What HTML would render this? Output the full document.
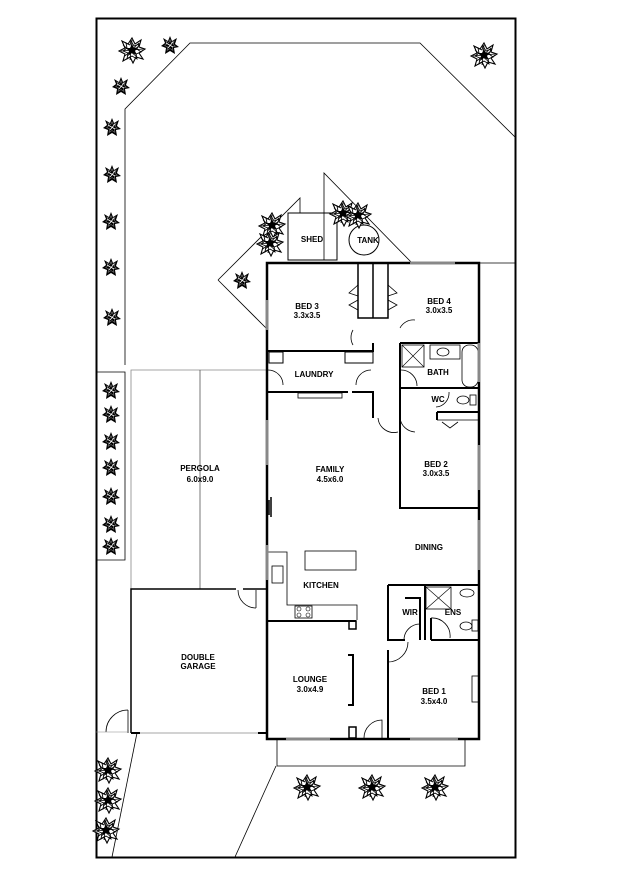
<!DOCTYPE html>
<html><head><meta charset="utf-8"><style>
html,body{margin:0;padding:0;background:#fff}
svg{display:block}
text{font-family:"Liberation Sans",sans-serif;font-size:8px;font-weight:bold;text-anchor:middle;fill:#000}
</style></head><body>
<svg width="620" height="877" viewBox="0 0 620 877" xmlns="http://www.w3.org/2000/svg">
<defs>
<g id="t">
<polygon points="0,-12 3,-6 9,-10 7,-3 13,-1 7,3 11,9 4,7 1,13 -2,7 -9,11 -7,4 -13,1 -7,-2 -10,-9 -4,-6" fill="#fff" stroke="#000" stroke-width="1.1"/>
<polygon points="-1,-9 2,-4 7,-6 5,-1 9,2 4,4 5,9 0,6 -5,9 -4,3 -9,1 -5,-2 -6,-7 -2,-5" fill="none" stroke="#000" stroke-width="0.9"/>
<polygon points="0,-6 2,-2 6,-3 3,1 5,5 0,3 -4,6 -3,1 -6,-2 -2,-2" fill="#000"/>
<path d="M-9,-5 L5,7 M-7,6 L7,-7 M0,-10 L-2,10 M-11,1 L11,-1" stroke="#000" stroke-width="0.8"/>
</g>
<g id="s">
<polygon points="0,-9 2,-4 7,-7 5,-1 9,2 4,3 5,9 0,6 -5,9 -4,3 -9,1 -5,-2 -7,-7 -2,-4" fill="#000"/>
<polygon points="0,-9 2,-4 7,-7 5,-1 9,2 4,3 5,9 0,6 -5,9 -4,3 -9,1 -5,-2 -7,-7 -2,-4" fill="none" stroke="#fff" stroke-width="0.5" transform="scale(0.6)"/>
<path d="M-4,-2 L3,2 M-2,3 L3,-3" stroke="#fff" stroke-width="0.8"/>
</g>
</defs>
<g fill="none" stroke="#000">
<rect x="96.5" y="18.5" width="419" height="839" stroke-width="2"/>
<polyline points="125,365 125,109 190,43 420,43 515,137" stroke-width="0.8"/>
<line x1="479" y1="263" x2="515" y2="263" stroke-width="0.8"/>
<polyline points="96,372 125,372 125,560 96,560" stroke-width="0.8"/>
<polyline points="131,589 131,370 267,370" stroke="#888" stroke-width="0.8"/>
<line x1="200" y1="370" x2="200" y2="589" stroke="#555" stroke-width="0.8"/>
<polyline points="131,733 131,589 236,589" stroke-width="1.5"/>
<line x1="243" y1="589" x2="267" y2="589" stroke-width="1.5"/>
<line x1="131" y1="733" x2="267" y2="733" stroke="#888" stroke-width="0.8"/>
<path d="M131,733 H140 M258,733 H267" stroke-width="2"/>
<path d="M256,590 L256,608 M256,608 A18,18 0 0 1 238,590" stroke-width="0.8"/>
<path d="M128,733 L128,710 M128,710 A22,22 0 0 0 106,732" stroke-width="0.8"/>
<line x1="96" y1="732" x2="128" y2="732" stroke="#888" stroke-width="0.6"/>
<line x1="137" y1="733" x2="112" y2="857" stroke-width="0.8"/>
<line x1="276" y1="766" x2="235" y2="857" stroke-width="0.8"/>
<polyline points="277,739 277,766 465,766 465,739" stroke-width="0.8"/>
<polyline points="218,280 300,198 300,213" stroke-width="0.8"/>
<line x1="218" y1="280" x2="267" y2="329" stroke-width="0.8"/>
<polyline points="324,260 324,173 412,263" stroke-width="0.8"/>
<rect x="288" y="213" width="49" height="47" stroke-width="1"/>
<circle cx="364" cy="240" r="15" stroke-width="1"/>
<rect x="267" y="263" width="212" height="476" stroke-width="2.5"/>
<path d="M358,263 V318 H388 V263 M373,263 V318" stroke-width="1.5"/>
<path d="M358,285 l-9,8 l9,3 M358,300 l-9,5 l9,5 M388,285 l9,8 l-9,3 M388,300 l9,5 l-9,5" stroke-width="0.8"/>
<path d="M267,351 H373 V343 M267,392 H348 M352,392 H373 V418" stroke-width="2"/>
<rect x="269" y="352" width="14" height="11" stroke-width="1"/>
<rect x="345" y="352" width="28" height="11" stroke-width="1"/>
<path d="M268,370 A15,15 0 0 1 283,385 M371,370 A15,15 0 0 0 356,385 M353,330 A15,15 0 0 0 353,345 M400,328 A15,15 0 0 1 415,320" stroke-width="0.8"/>
<rect x="298" y="393" width="44" height="5" stroke-width="0.8"/>
<path d="M400,343 H479 M400,343 V418 M400,388 H479 M437,412 H479 M437,412 V420" stroke-width="2"/>
<rect x="402" y="345" width="22" height="22" stroke-width="0.8"/>
<path d="M402,345 L424,367 M424,345 L402,367" stroke-width="0.6"/>
<rect x="430" y="345" width="30" height="14" stroke-width="0.8"/>
<ellipse cx="443" cy="352" rx="6" ry="4" stroke-width="0.8"/>
<rect x="462" y="345" width="16" height="42" rx="7" stroke-width="0.8"/>
<ellipse cx="463" cy="400" rx="6" ry="4" stroke-width="0.8"/>
<rect x="470" y="395" width="6" height="10" stroke-width="0.8"/>
<path d="M401,370 A16,16 0 0 1 417,386 M449,392 A14,14 0 0 1 436,407 M378,418 A16,16 0 0 0 398,432 M400,418 A16,16 0 0 0 415,432" stroke-width="0.8"/>
<path d="M400,418 V508 H479" stroke-width="2"/>
<path d="M437,420 H479 M442,422 l8,6 l8,-6" stroke-width="0.8"/>
<rect x="305" y="551" width="51" height="19" stroke-width="0.8"/>
<path d="M267,552 H287 V605 H357 V620" stroke-width="0.8"/>
<rect x="272" y="566" width="11" height="17" stroke-width="0.8"/>
<rect x="295" y="606" width="17" height="12" stroke-width="0.8"/>
<circle cx="299" cy="609" r="2" stroke-width="0.6"/><circle cx="308" cy="609" r="2" stroke-width="0.6"/>
<circle cx="299" cy="615" r="2" stroke-width="0.6"/><circle cx="308" cy="615" r="2" stroke-width="0.6"/>
<path d="M267,621 H356" stroke-width="2"/>
<rect x="349" y="621" width="7" height="8" stroke-width="1.5"/>
<path d="M348,655 H353 V705 H348" stroke-width="2"/>
<rect x="349" y="727" width="7" height="11" stroke-width="1.5"/>
<path d="M364,738 A18,18 0 0 1 382,720 V738" stroke-width="0.8"/>
<path d="M388,585 H479 M388,585 V640 H405 M388,650 V739 M425,585 V640 M431,640 H479 M405,598 H420 V640 M431,618 V640" stroke-width="2"/>
<rect x="426" y="587" width="25" height="22" stroke-width="0.8"/>
<path d="M426,587 L451,609 M451,587 L426,609" stroke-width="0.6"/>
<ellipse cx="467" cy="593" rx="7" ry="4" stroke-width="0.8"/>
<ellipse cx="466" cy="626" rx="6" ry="4" stroke-width="0.8"/>
<rect x="472" y="620" width="6" height="11" stroke-width="0.8"/>
<path d="M404,640 A16,16 0 0 1 420,624 M431,618 A18,18 0 0 1 450,638 M388,662 A20,20 0 0 0 408,642" stroke-width="0.8"/>
<rect x="472" y="676" width="7" height="26" stroke-width="0.8"/>
<path d="M269,500 V515 M271,497 V517" stroke-width="1.5"/>
</g>
<g stroke="#888" stroke-width="3">
<line x1="267" y1="420" x2="267" y2="465"/><line x1="267" y1="300" x2="267" y2="330"/>
<line x1="267" y1="545" x2="267" y2="580"/>
<line x1="479" y1="445" x2="479" y2="490"/><line x1="479" y1="520" x2="479" y2="570"/>
<line x1="479" y1="343" x2="479" y2="382"/>
<line x1="286" y1="739" x2="330" y2="739"/><line x1="410" y1="739" x2="458" y2="739"/>
<line x1="410" y1="263" x2="455" y2="263"/>
</g>
<use href="#t" x="132" y="50"/><use href="#s" x="170" y="45"/><use href="#s" x="121" y="86"/>
<use href="#s" x="112" y="127"/><use href="#s" x="112" y="174"/><use href="#s" x="111" y="221"/>
<use href="#s" x="111" y="267"/><use href="#s" x="112" y="317"/>
<use href="#s" x="111" y="390"/><use href="#s" x="111" y="414"/><use href="#s" x="111" y="441"/>
<use href="#s" x="111" y="467"/><use href="#s" x="111" y="496"/><use href="#s" x="111" y="524"/><use href="#s" x="111" y="546"/>
<use href="#t" x="484" y="55"/>
<use href="#t" x="272" y="225"/><use href="#t" x="270" y="243"/><use href="#s" x="242" y="280"/>
<use href="#t" x="343" y="213"/><use href="#t" x="358" y="215"/>
<use href="#t" x="307" y="787"/><use href="#t" x="372" y="787"/><use href="#t" x="435" y="787"/>
<use href="#t" x="108" y="770"/><use href="#t" x="108" y="800"/><use href="#t" x="106" y="830"/>
<text x="312" y="242">SHED</text>
<text x="368" y="243">TANK</text>
<text x="307" y="309">BED 3</text><text x="307" y="318">3.3x3.5</text>
<text x="439" y="304">BED 4</text><text x="439" y="313">3.0x3.5</text>
<text x="314" y="377">LAUNDRY</text>
<text x="438" y="375">BATH</text>
<text x="438" y="402">WC</text>
<text x="330" y="472">FAMILY</text><text x="330" y="482">4.5x6.0</text>
<text x="436" y="467">BED 2</text><text x="436" y="476">3.0x3.5</text>
<text x="200" y="471">PERGOLA</text><text x="200" y="482">6.0x9.0</text>
<text x="429" y="550">DINING</text>
<text x="321" y="588">KITCHEN</text>
<text x="410" y="615">WIR</text>
<text x="453" y="615">ENS</text>
<text x="198" y="660">DOUBLE</text><text x="198" y="669">GARAGE</text>
<text x="310" y="682">LOUNGE</text><text x="310" y="692">3.0x4.9</text>
<text x="434" y="694">BED 1</text><text x="434" y="704">3.5x4.0</text>
</svg>
</body></html>
